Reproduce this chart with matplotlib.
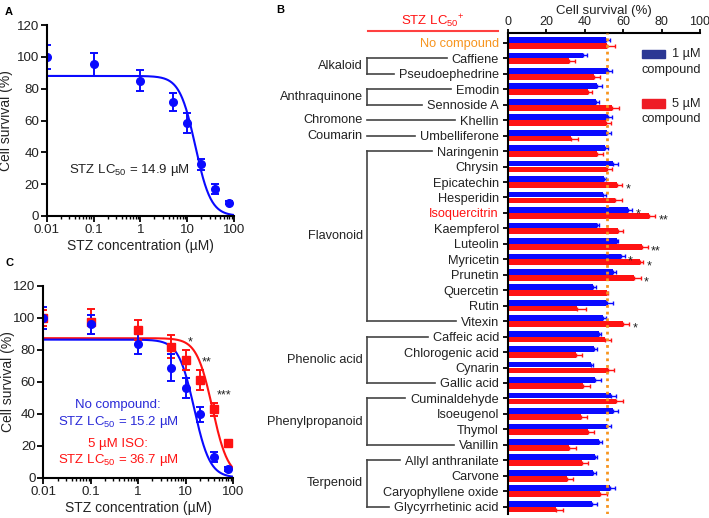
"""
plot.py
STZ cytotoxicity panels: dose-response (A, C) and compound screen (B)
"""

import numpy as np
import matplotlib
matplotlib.use('Agg')
import matplotlib.pyplot as plt
from matplotlib.lines import Line2D
from matplotlib.patches import Rectangle
from matplotlib.ticker import FixedLocator, LogLocator, NullFormatter

plt.rcParams['font.family'] = ['Liberation Sans', 'DejaVu Sans']
plt.rcParams['mathtext.fontset'] = 'custom'
plt.rcParams['mathtext.rm'] = 'Liberation Sans'
plt.rcParams['mathtext.it'] = 'Liberation Sans:italic'
plt.rcParams['mathtext.bf'] = 'Liberation Sans:bold'

BLUE   = "#0a0aff"
RED    = "#ff1212"
ORANGE = "#f7941d"
INK    = "#222222"
W, H   = 709, 518

# ── Dose-response data (A, C) ─────────────────────────────
conc        = [0.01, 0.1, 1, 5, 10, 20, 40, 80]
a_surv      = [100, 95.3, 85, 71.6, 58.6, 32.5, 16.8, 8.4]
a_err       = [7.7, 7.3, 6.5, 5.9, 6.4, 3.3, 3.1, 0.8]
a_fit       = (88.0, 14.9, 2.6)          # top, LC50, hill

c_blue      = [99.6, 95.9, 83.4, 68.8, 55.9, 39.6, 13.0, 5.4]
c_blue_err  = [6.9, 5.9, 6.3, 8.4, 6.3, 4.5, 3.0, 1.0]
c_red       = [100, 97.5, 92.3, 81.9, 73.6, 61.0, 42.7, 21.9]
c_red_err   = [5.0, 7.7, 6.3, 7.3, 6.2, 6.3, 4.0, 1.0]
c_red_stars = ['', '', '', '', '*', '**', '***', '']
c_blue_fit  = (86.3, 15.2, 2.6)
c_red_fit   = (87.2, 36.7, 2.6)

# ── Compound screen data (B) ──────────────────────────────
compounds = ["No compound", "Caffiene", "Pseudoephedrine", "Emodin", "Sennoside A",
             "Khellin", "Umbelliferone", "Naringenin", "Chrysin", "Epicatechin",
             "Hesperidin", "Isoquercitrin", "Kaempferol", "Luteolin", "Myricetin",
             "Prunetin", "Quercetin", "Rutin", "Vitexin", "Caffeic acid",
             "Chlorogenic acid", "Cynarin", "Gallic acid", "Cuminaldehyde",
             "Isoeugenol", "Thymol", "Vanillin", "Allyl anthranilate", "Carvone",
             "Caryophyllene oxide", "Glycyrrhetinic acid"]
surv_1uM = [51.0, 38.9, 52.0, 46.5, 45.7, 52.3, 51.4, 50.5, 54.5, 50.0,
            49.3, 62.3, 46.5, 56.6, 58.7, 54.5, 44.4, 51.4, 49.7, 47.6,
            44.8, 43.2, 45.3, 53.6, 54.5, 51.7, 47.6, 45.3, 44.4, 53.1, 43.9]
err_1uM  = [2.0, 2.4, 2.0, 2.4, 1.9, 2.0, 2.2, 1.4, 2.6, 1.0,
            2.0, 2.3, 1.0, 0.8, 2.0, 2.0, 1.4, 3.5, 1.2, 1.0,
            1.4, 0.9, 3.0, 2.8, 2.8, 1.7, 1.4, 1.0, 1.2, 2.4, 2.3]
surv_5uM = [51.7, 31.8, 44.8, 41.8, 54.3, 51.0, 32.6, 46.5, 51.8, 56.6,
            55.9, 73.3, 57.1, 69.8, 68.8, 65.8, 51.4, 36.1, 60.1, 50.7,
            35.2, 51.9, 38.9, 56.2, 37.8, 41.5, 31.9, 38.5, 30.6, 47.9, 25.0]
err_5uM  = [4.0, 3.1, 3.0, 2.0, 3.3, 2.6, 3.6, 2.8, 2.6, 3.0,
            3.5, 3.5, 3.0, 3.0, 1.4, 3.3, 0.6, 4.3, 3.0, 2.8,
            3.1, 3.3, 3.8, 3.8, 3.1, 3.3, 3.3, 3.1, 3.1, 3.8, 3.6]
stars_1uM = {11: '*', 14: '*'}
stars_5uM = {9: '*', 11: '**', 13: '**', 14: '*', 15: '*', 18: '*'}
groups = [("Alkaloid", 1, 2), ("Anthraquinone", 3, 4), ("Chromone", 5, 5),
          ("Coumarin", 6, 6), ("Flavonoid", 7, 18), ("Phenolic acid", 19, 22),
          ("Phenylpropanoid", 23, 26), ("Terpenoid", 27, 30)]
label_colors = {0: ORANGE, 11: RED}


def hill(x, top, lc50, h):
    return top / (1.0 + (x / lc50) ** h)


def box(l, t, r, b):
    # pixel box (top-left origin) -> figure fraction rect
    return [l / W, 1 - b / H, (r - l) / W, (b - t) / H]


def style_dose_axes(ax, ylab_x):
    ax.set_xscale('log')
    ax.set_xlim(0.01, 100)
    ax.set_ylim(0, 120)
    ax.set_yticks(range(0, 121, 20))
    ax.xaxis.set_major_locator(FixedLocator([0.01, 0.1, 1, 10, 100]))
    ax.set_xticklabels(['0.01', '0.1', '1', '10', '100'])
    ax.xaxis.set_minor_locator(LogLocator(base=10, subs=np.arange(2, 10), numticks=20))
    ax.xaxis.set_minor_formatter(NullFormatter())
    for s in ['top', 'right']:
        ax.spines[s].set_visible(False)
    for s in ['left', 'bottom']:
        ax.spines[s].set_linewidth(1.5)
        ax.spines[s].set_color('black')
    ax.tick_params(which='major', length=4, width=1.3, labelsize=9.6, colors='black',
                   labelcolor=INK, pad=2)
    ax.tick_params(axis='y', pad=1.5)
    ax.tick_params(which='minor', length=2.2, width=1.0)
    ax.set_xlabel("STZ concentration (µM)", fontsize=10, color=INK, labelpad=2)
    ax.set_ylabel("Cell survival (%)", fontsize=10, color=INK)
    ax.yaxis.set_label_coords(ylab_x, 0.5)


fig = plt.figure(figsize=(W / 100, H / 100), dpi=100)
xs = np.logspace(-2, 2, 400)
eb = dict(capsize=2.6, elinewidth=1.4, capthick=1.4, markersize=5.5)

# ── Panel A ────────────────────────────────────────────────
axA = fig.add_axes(box(46.7, 25, 234, 216))
axA.plot(xs, hill(xs, *a_fit), color=BLUE, lw=1.5)
axA.errorbar(conc, a_surv, yerr=a_err, fmt='o', color=BLUE, **eb)
style_dose_axes(axA, -0.18)
axA.text(0.443, 0.24, "STZ LC$_{50}$ = 14.9 µM", transform=axA.transAxes,
         ha='center', va='center', fontsize=9.5, color=INK)

# ── Panel C ────────────────────────────────────────────────
axC = fig.add_axes(box(43.3, 285.7, 233, 477.7))
axC.plot(xs, hill(xs, *c_red_fit), color=RED, lw=1.5)
axC.plot(xs, hill(xs, *c_blue_fit), color=BLUE, lw=1.5)
axC.errorbar(conc, c_red, yerr=c_red_err, fmt='s', color=RED, **eb)
axC.errorbar(conc, c_blue, yerr=c_blue_err, fmt='o', color=BLUE, **eb)
for x, y, e, s in zip(conc, c_red, c_red_err, c_red_stars):
    if s:
        axC.text(x * 1.12, y + e + 5, s, ha='left', va='center', fontsize=9, color=INK)
style_dose_axes(axC, -0.15)
tc = dict(transform=axC.transAxes, ha='center', va='center', fontsize=9.5)
axC.text(0.394, 0.379, "No compound:", color="#2a2ad8", **tc)
axC.text(0.394, 0.292, "STZ LC$_{50}$ = 15.2 µM", color="#2a2ad8", **tc)
axC.text(0.394, 0.176, "5 µM ISO:", color=RED, **tc)
axC.text(0.394, 0.090, "STZ LC$_{50}$ = 36.7 µM", color=RED, **tc)

# ── Panel B ────────────────────────────────────────────────
axB = fig.add_axes(box(508, 33.3, 700, 514.4))
rows = np.arange(len(compounds))
zeros = np.zeros(len(rows))
axB.barh(rows - 0.19, surv_1uM, height=0.37, color=BLUE, zorder=2,
         xerr=[zeros, err_1uM],
         error_kw=dict(ecolor=BLUE, elinewidth=1.0, capsize=1.6, capthick=1.0, zorder=2))
axB.barh(rows + 0.19, surv_5uM, height=0.37, color=RED, zorder=2,
         xerr=[zeros, err_5uM],
         error_kw=dict(ecolor=RED, elinewidth=1.0, capsize=1.6, capthick=1.0, zorder=2))
ref = np.mean([surv_1uM[0], surv_5uM[0]])
axB.axvline(ref, color=ORANGE, lw=2.0, ls=(0, (1, 1.4)), zorder=4)
for i, s in stars_1uM.items():
    axB.text(surv_1uM[i] + err_1uM[i] + 1.8, i - 0.19 + 0.3, s,
             ha='left', va='center', fontsize=9, color=INK)
for i, s in stars_5uM.items():
    axB.text(surv_5uM[i] + err_5uM[i] + 1.8, i + 0.19 + 0.3, s,
             ha='left', va='center', fontsize=9, color=INK)

axB.set_xlim(0, 100)
axB.set_ylim(30.5, -0.62)
axB.set_xticks(range(0, 101, 20))
axB.set_yticks(rows)
axB.set_yticklabels(compounds)
for i, lab in enumerate(axB.get_yticklabels()):
    lab.set_color(label_colors.get(i, INK))
axB.xaxis.tick_top()
axB.xaxis.set_label_position('top')
axB.set_xlabel("Cell survival (%)", fontsize=9.5, color=INK, labelpad=2)
for s in ['bottom', 'right']:
    axB.spines[s].set_visible(False)
for s in ['left', 'top']:
    axB.spines[s].set_linewidth(1.5)
    axB.spines[s].set_color('black')
axB.tick_params(axis='x', length=3, width=1.3, labelsize=9.0, labelcolor=INK, pad=0.5)
axB.tick_params(axis='y', length=3.5, width=1.3, labelsize=9.2, pad=3)

# legend, drawn by hand to keep the wrapped labels
for top, c, txt in [(50, "#2b3794", "1 µM"), (99.3, "#ee1c25", "5 µM")]:
    fig.add_artist(Rectangle((641.7 / W, 1 - (top + 8.5) / H), 23.3 / W, 8.5 / H,
                             transform=fig.transFigure, color=c))
    fig.text(700 / W, 1 - (top + 4.2) / H, txt, ha='right', va='center',
             fontsize=9.2, color=INK)
    fig.text(641.7 / W, 1 - (top + 19.5) / H, "compound", ha='left', va='center',
             fontsize=9.2, color=INK)

# "STZ LC50+" header
fig.text(433 / W, 1 - 21 / H, "STZ LC$_{50}$$^{+}$", ha='center', va='center',
         fontsize=9.5, color=RED)
fig.add_artist(Line2D([368 / W, 498 / W], [1 - 31 / H, 1 - 31 / H],
                      transform=fig.transFigure, color="#ff4040", lw=1.5))

fig.canvas.draw()
rend = fig.canvas.get_renderer()
tick_left = [lab.get_window_extent(rend).x0 for lab in axB.get_yticklabels()]
row_y = [axB.transData.transform((0, r))[1] for r in rows]
BX = 367.0
lkw = dict(transform=fig.transFigure, color="#444444", lw=1.2)
for name, first, last in groups:
    for r in {first, last}:
        fig.add_artist(Line2D([BX / W, (tick_left[r] - 5) / W],
                              [row_y[r] / H, row_y[r] / H], **lkw))
    if last > first:
        fig.add_artist(Line2D([BX / W, BX / W], [row_y[first] / H, row_y[last] / H], **lkw))
    ymid = (row_y[first] + row_y[last]) / 2
    fig.text(363 / W, ymid / H, name, ha='right', va='center', fontsize=9.2, color=INK)

# panel letters
for x, y, l in [(5, 11.7, "A"), (276.7, 10, "B"), (5, 263.3, "C")]:
    fig.text(x / W, 1 - y / H, l, ha='left', va='center', fontsize=8, fontweight='bold')

fig.savefig("out.png", dpi=100)
